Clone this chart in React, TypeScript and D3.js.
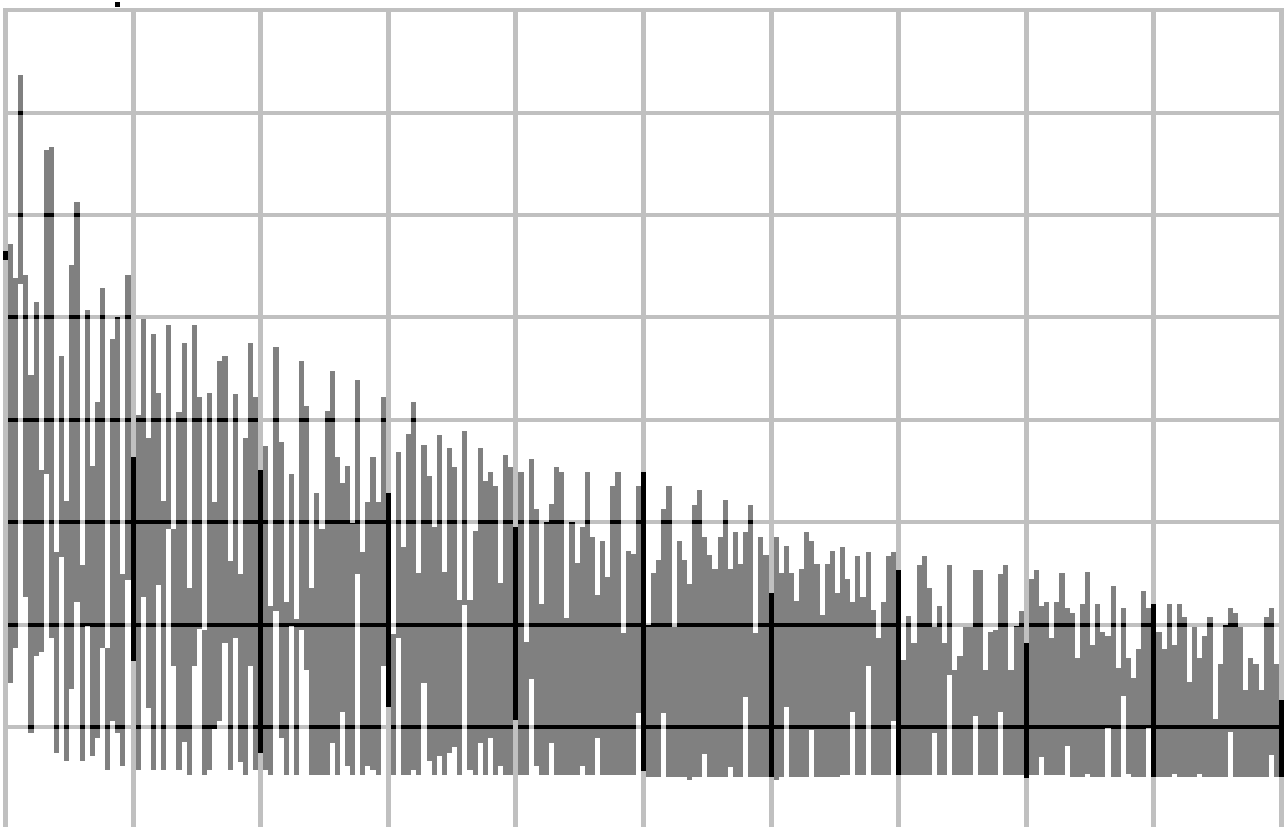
import React from 'react';
import * as d3 from 'd3';

const W = 1285;
const H = 827;

// top of each column, columns 0..250
const highs = [
  56.5, 57.2, 53.8, 73.7, 54.1, 44.4, 51.5, 35.1, 66.3, 66.6,
  27.1, 46.2, 32.1, 55.1, 61.3, 25.8, 50.7, 35.5, 41.7, 52.9,
  17.7, 47.9, 50.0, 24.9, 54.1, 36.4, 40.5, 49.8, 38.2, 48.4,
  42.6, 32.1, 49.3, 29.3, 40.8, 47.5, 23.6, 49.3, 42.2, 19.5,
  42.6, 32.0, 45.7, 46.2, 26.2, 42.5, 24.9, 38.2, 47.5, 42.2,
  35.1, 37.4, 21.8, 47.1, 37.8, 22.2, 34.7, 20.5, 45.7, 41.3,
  23.6, 32.9, 29.3, 40.9, 44.8, 36.4, 33.8, 35.5, 29.9, 43.9,
  27.1, 32.0, 36.4, 32.0, 42.2, 32.9, 19.1, 36.9, 27.6, 38.6,
  41.7, 25.0, 37.5, 34.5, 29.5, 38.5, 25.1, 37.2, 35.4, 22.4,
  38.9, 22.4, 29.1, 37.2, 34.0, 34.9, 33.5, 24.1, 36.6, 35.4,
  29.5, 34.9, 18.3, 36.2, 31.3, 22.0, 30.0, 31.8, 35.4, 34.9,
  20.6, 30.0, 26.0, 29.5, 34.9, 28.6, 22.9, 28.2, 24.6, 33.5,
  34.9, 19.2, 27.2, 26.9, 33.5, 34.9, 20.0, 25.0, 26.3, 31.3,
  33.5, 19.8, 28.2, 26.3, 24.0, 31.7, 33.1, 28.6, 26.8, 25.4,
  28.6, 32.2, 25.4, 29.0, 25.9, 29.0, 31.7, 19.2, 28.6, 26.8,
  23.1, 28.6, 25.0, 27.7, 25.0, 22.3, 25.4, 29.0, 28.2, 25.9,
  20.9, 25.9, 27.2, 23.1, 27.6, 24.5, 22.2, 26.7, 22.7, 27.1,
  21.4, 18.7, 22.2, 26.7, 27.1, 25.3, 16.5, 20.8, 18.2, 25.8,
  26.7, 23.6, 19.8, 21.8, 18.2, 25.8, 15.6, 16.9, 19.8, 19.8,
  25.3, 25.3, 15.6, 19.3, 19.5, 24.9, 25.8, 15.6, 19.9, 21.3,
  18.2, 24.5, 25.3, 21.8, 22.2, 18.7, 22.2, 25.0, 21.6, 21.1,
  16.7, 22.0, 25.1, 18.0, 22.0, 19.3, 18.9, 23.8, 15.8, 21.6,
  16.7, 14.8, 17.6, 23.3, 21.6, 22.0, 19.3, 17.6, 22.0, 18.0,
  22.0, 20.7, 14.4, 19.8, 16.7, 18.9, 20.7, 10.8, 16.2, 20.0,
  21.6, 21.1, 19.8, 13.6, 16.7, 16.2, 13.6, 20.7, 21.6, 16.2,
  12.6,
];

// bottom of each column, columns 0..250
const lows = [
  55.6, 14.3, 17.7, 53.3, 22.7, 9.4, 16.9, 17.3, 34.7, 18.7,
  7.5, 26.6, 6.7, 13.7, 22.2, 6.7, 19.9, 7.2, 8.9, 17.7,
  5.8, 10.6, 9.4, 6.2, 24.4, 16.4, 5.8, 22.7, 11.9, 5.8,
  23.9, 5.8, 29.3, 16.0, 5.8, 8.5, 5.3, 16.0, 19.6, 5.3,
  5.8, 9.8, 10.6, 18.2, 5.8, 18.7, 6.6, 5.3, 16.0, 5.8,
  7.5, 5.8, 5.3, 21.3, 8.9, 5.3, 19.9, 5.3, 19.5, 15.6,
  5.3, 5.3, 5.3, 5.3, 8.4, 5.3, 11.5, 6.2, 5.3, 24.9,
  5.3, 6.2, 5.8, 5.3, 16.0, 12.0, 5.3, 18.7, 5.3, 5.3,
  5.8, 5.3, 14.3, 6.7, 5.3, 7.2, 5.3, 7.5, 8.0, 5.3,
  21.9, 5.8, 5.3, 8.4, 5.3, 8.9, 5.3, 6.2, 5.3, 5.3,
  10.7, 5.3, 5.3, 14.7, 6.2, 5.3, 5.3, 8.4, 5.3, 5.3,
  5.3, 5.3, 5.3, 6.2, 5.3, 5.3, 8.9, 5.3, 5.3, 5.3,
  5.3, 5.3, 5.3, 5.3, 11.4, 5.7, 5.1, 5.1, 5.1, 11.4,
  5.1, 5.1, 5.1, 5.1, 4.8, 5.1, 5.1, 7.4, 5.1, 5.1,
  5.1, 5.1, 6.1, 5.1, 5.1, 12.9, 5.1, 5.1, 5.1, 5.1,
  5.1, 4.8, 5.1, 12.0, 5.1, 5.1, 5.1, 5.1, 9.7, 5.1,
  5.1, 5.1, 5.1, 5.1, 5.3, 5.3, 11.5, 5.3, 5.3, 16.0,
  5.3, 5.3, 5.3, 5.3, 10.6, 5.3, 5.3, 5.3, 5.3, 5.3,
  5.3, 5.3, 9.4, 5.3, 5.3, 15.1, 5.3, 5.3, 5.3, 5.3,
  11.1, 5.3, 5.3, 5.3, 5.3, 11.5, 5.3, 5.3, 5.3, 5.3,
  5.0, 5.3, 5.3, 7.1, 5.3, 5.3, 5.3, 5.3, 8.1, 5.1,
  5.1, 5.1, 5.4, 5.1, 5.1, 5.1, 9.9, 5.1, 5.1, 13.0,
  5.4, 5.1, 5.1, 5.1, 9.9, 5.1, 5.1, 5.1, 5.1, 5.4,
  5.1, 5.1, 5.1, 5.1, 5.4, 5.1, 5.1, 5.1, 5.1, 5.1,
  9.5, 5.1, 5.1, 5.1, 5.1, 5.1, 5.1, 5.1, 7.3, 5.1,
  5.1,
];

const yGridValues = [0, 10, 20, 30, 40, 50, 60, 70, 80];
const xGridCols = [0, 25, 50, 75, 100, 125, 150, 175, 200, 225, 250];
// the lone dark tick above the plot
const strayMarks = [{ col: 22, lo: 80.3, hi: 80.8 }];

export default function App() {
  const x = d3.scaleLinear().domain([0, 250]).range([5.5, 1281.5]);
  const y = d3.scaleLinear().domain([0, 80]).range([829.4, 10.2]);
  const bw = x(1) - x(0);
  const plotLeft = 3;

  const bars = highs.map((hi, i) => {
    const x0 = Math.max(plotLeft, x(i) - bw / 2);
    const x1 = x(i) + bw / 2;
    return { i, x: x0, w: x1 - x0, y: y(hi), h: y(lows[i]) - y(hi) };
  });

  const gridTop = y(80) - 2;

  const gridLines = (fill: string) => (
    <g fill={fill}>
      {yGridValues.map(v => (
        <rect key={'h' + v} x={plotLeft} y={y(v) - 2} width={1284 - plotLeft} height={4} />
      ))}
      {xGridCols.map(c => (
        <rect key={'v' + c} x={x(c) - 2.5} y={gridTop} width={5} height={H - gridTop} />
      ))}
    </g>
  );

  return (
    <svg
      width={W}
      height={H}
      shapeRendering="crispEdges"
      style={{ position: 'absolute', left: 0, top: 0, display: 'block', background: '#fff' }}
    >
      <defs>
        <clipPath id="barsClip">
          {bars.map(b => (
            <rect key={b.i} x={b.x} y={b.y} width={b.w} height={b.h} />
          ))}
        </clipPath>
      </defs>
      <rect x={0} y={0} width={W} height={H} fill="#fff" />
      {gridLines('#c0c0c0')}
      <g fill="#808080">
        {bars.map(b => (
          <rect key={b.i} x={b.x} y={b.y} width={b.w} height={b.h} />
        ))}
      </g>
      {/* grid shows black where it crosses a column */}
      <g clipPath="url(#barsClip)">{gridLines('#000')}</g>
      <g fill="#000">
        {strayMarks.map(m => (
          <rect key={m.col} x={x(m.col) - bw / 2} y={y(m.hi)} width={bw} height={y(m.lo) - y(m.hi)} />
        ))}
      </g>
    </svg>
  );
}
